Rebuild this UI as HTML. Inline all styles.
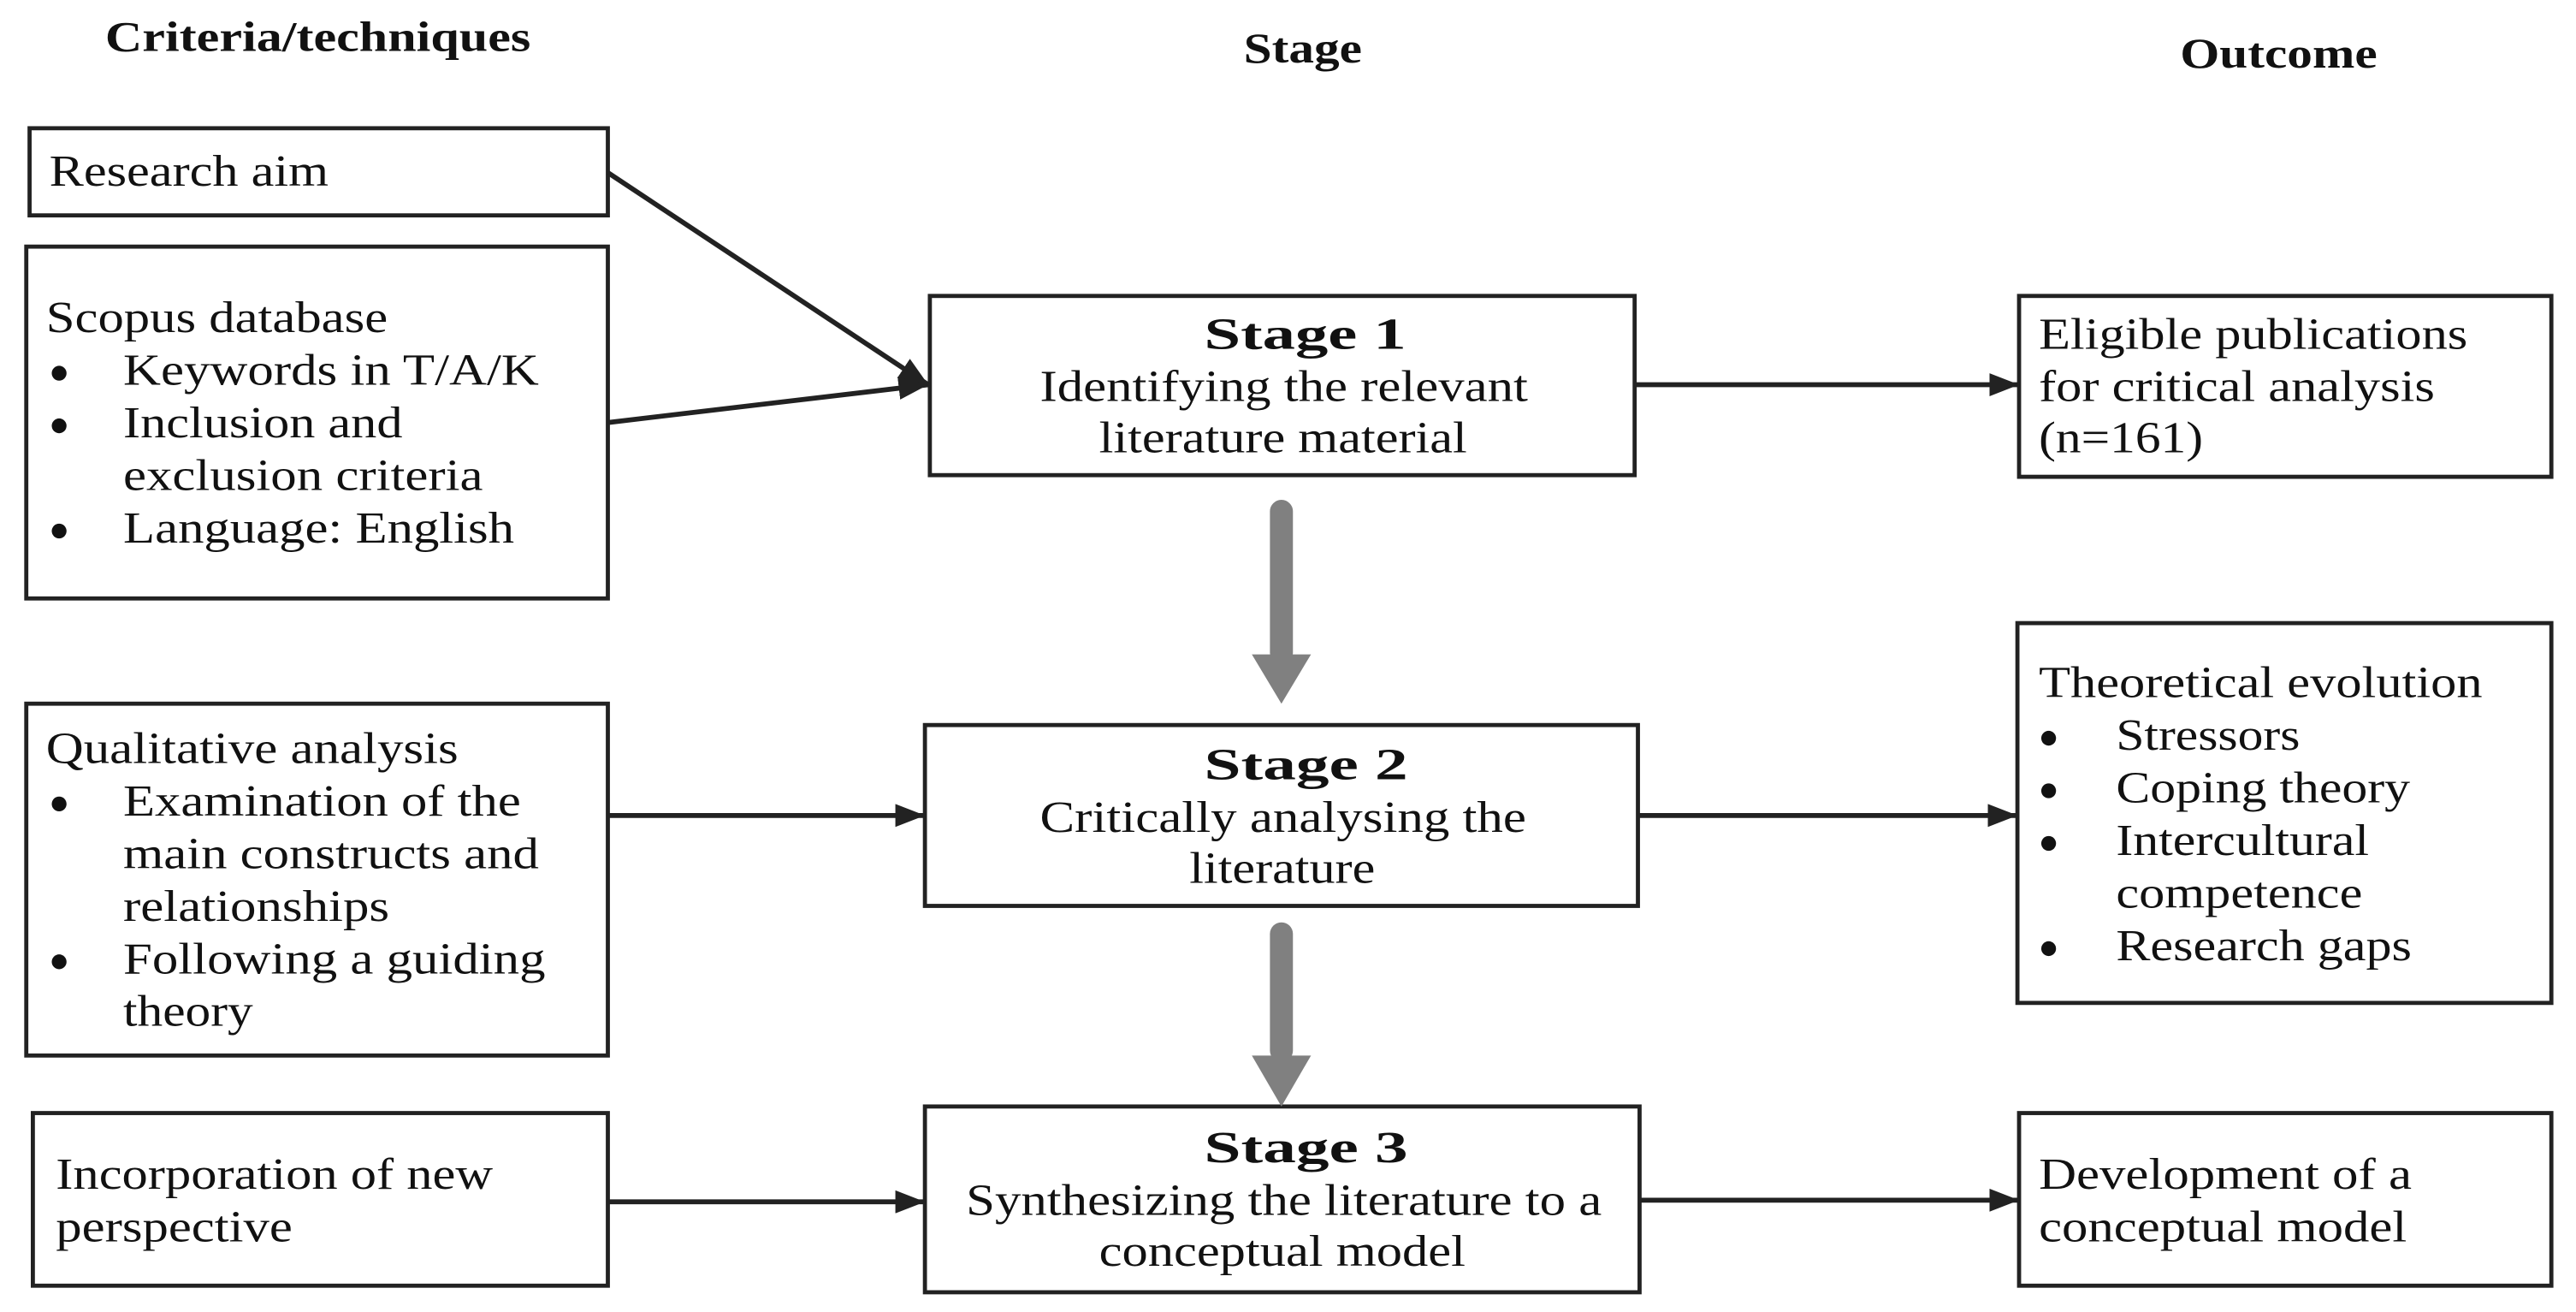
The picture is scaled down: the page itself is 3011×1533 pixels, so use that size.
<!DOCTYPE html>
<html><head><meta charset="utf-8"><style>html,body{margin:0;padding:0;background:#fff}svg{display:block}text{font-family:"Liberation Serif",serif}</style></head>
<body>
<svg width="3011" height="1533" viewBox="0 0 1568 798" preserveAspectRatio="none" xmlns="http://www.w3.org/2000/svg" font-size="27" fill="#111">
<defs>
<marker id="a" markerWidth="18" markerHeight="14" refX="18" refY="7" orient="auto" markerUnits="userSpaceOnUse" viewBox="0 0 18 14"><path d="M0,0 L18,7 L0,14 z" fill="#222"/></marker>
</defs>
<g font-weight="bold" font-size="26" lengthAdjust="spacingAndGlyphs">
<text x="64" y="31" textLength="259" lengthAdjust="spacingAndGlyphs">Criteria/techniques</text>
<text x="757" y="38" textLength="72" lengthAdjust="spacingAndGlyphs">Stage</text>
<text x="1327" y="41" textLength="120" lengthAdjust="spacingAndGlyphs">Outcome</text>
</g>
<g fill="none" stroke="#222" stroke-width="2.5">
<rect x="18" y="78" width="352" height="53"/>
<rect x="16" y="150" width="354" height="214"/>
<rect x="16" y="428" width="354" height="214"/>
<rect x="20" y="677" width="350" height="105"/>
<rect x="566" y="180" width="429" height="109"/>
<rect x="563" y="441" width="434" height="110"/>
<rect x="563" y="673" width="435" height="113"/>
<rect x="1229" y="180" width="324" height="110"/>
<rect x="1228" y="379" width="325" height="231"/>
<rect x="1229" y="677" width="324" height="105"/>
</g>
<g stroke="#222" stroke-width="3" fill="none">
<line x1="370" y1="105" x2="565" y2="234" marker-end="url(#a)"/>
<line x1="370" y1="257" x2="565" y2="234" marker-end="url(#a)"/>
<line x1="370" y1="496" x2="563" y2="496" marker-end="url(#a)"/>
<line x1="370" y1="731" x2="563" y2="731" marker-end="url(#a)"/>
<line x1="995" y1="234" x2="1229" y2="234" marker-end="url(#a)"/>
<line x1="997" y1="496" x2="1228" y2="496" marker-end="url(#a)"/>
<line x1="998" y1="730" x2="1229" y2="730" marker-end="url(#a)"/>
</g>
<g fill="#808080">
<rect x="773" y="304" width="14" height="100" rx="7"/>
<path d="M762,398 L798,398 L780,428 z"/>
<rect x="773" y="561" width="14" height="85" rx="7"/>
<path d="M762,642 L798,642 L780,673 z"/>
</g>
<g fill="#111">
<circle cx="36" cy="227" r="4.5"/><circle cx="36" cy="259" r="4.5"/><circle cx="36" cy="323" r="4.5"/>
<circle cx="36" cy="489" r="4.5"/><circle cx="36" cy="585" r="4.5"/>
<circle cx="1247" cy="449" r="4.5"/><circle cx="1247" cy="481" r="4.5"/><circle cx="1247" cy="513" r="4.5"/><circle cx="1247" cy="577" r="4.5"/>
</g>
<text x="30" y="113" textLength="170" lengthAdjust="spacingAndGlyphs">Research aim</text>
<text x="28" y="202" textLength="208" lengthAdjust="spacingAndGlyphs">Scopus database</text>
<text x="75" y="234" textLength="253" lengthAdjust="spacingAndGlyphs">Keywords in T/A/K</text>
<text x="75" y="266" textLength="170" lengthAdjust="spacingAndGlyphs">Inclusion and</text>
<text x="75" y="298" textLength="219" lengthAdjust="spacingAndGlyphs">exclusion criteria</text>
<text x="75" y="330" textLength="238" lengthAdjust="spacingAndGlyphs">Language: English</text>
<text x="28" y="464" textLength="251" lengthAdjust="spacingAndGlyphs">Qualitative analysis</text>
<text x="75" y="496" textLength="242" lengthAdjust="spacingAndGlyphs">Examination of the</text>
<text x="75" y="528" textLength="253" lengthAdjust="spacingAndGlyphs">main constructs and</text>
<text x="75" y="560" textLength="162" lengthAdjust="spacingAndGlyphs">relationships</text>
<text x="75" y="592" textLength="257" lengthAdjust="spacingAndGlyphs">Following a guiding</text>
<text x="75" y="624" textLength="79" lengthAdjust="spacingAndGlyphs">theory</text>
<text x="34" y="723" textLength="266" lengthAdjust="spacingAndGlyphs">Incorporation of new</text>
<text x="34" y="755" textLength="144" lengthAdjust="spacingAndGlyphs">perspective</text>
<text x="733" y="212" font-weight="bold" textLength="123" lengthAdjust="spacingAndGlyphs">Stage 1</text>
<text x="633" y="244" textLength="297" lengthAdjust="spacingAndGlyphs">Identifying the relevant</text>
<text x="669" y="275" textLength="224" lengthAdjust="spacingAndGlyphs">literature material</text>
<text x="733" y="474" font-weight="bold" textLength="124" lengthAdjust="spacingAndGlyphs">Stage 2</text>
<text x="633" y="506" textLength="296" lengthAdjust="spacingAndGlyphs">Critically analysing the</text>
<text x="724" y="537" textLength="113" lengthAdjust="spacingAndGlyphs">literature</text>
<text x="733" y="707" font-weight="bold" textLength="124" lengthAdjust="spacingAndGlyphs">Stage 3</text>
<text x="588" y="739" textLength="387" lengthAdjust="spacingAndGlyphs">Synthesizing the literature to a</text>
<text x="669" y="770" textLength="223" lengthAdjust="spacingAndGlyphs">conceptual model</text>
<text x="1241" y="212" textLength="261" lengthAdjust="spacingAndGlyphs">Eligible publications</text>
<text x="1241" y="244" textLength="241" lengthAdjust="spacingAndGlyphs">for critical analysis</text>
<text x="1241" y="275" textLength="100" lengthAdjust="spacingAndGlyphs">(n=161)</text>
<text x="1241" y="424" textLength="270" lengthAdjust="spacingAndGlyphs">Theoretical evolution</text>
<text x="1288" y="456" textLength="112" lengthAdjust="spacingAndGlyphs">Stressors</text>
<text x="1288" y="488" textLength="179" lengthAdjust="spacingAndGlyphs">Coping theory</text>
<text x="1288" y="520" textLength="154" lengthAdjust="spacingAndGlyphs">Intercultural</text>
<text x="1288" y="552" textLength="150" lengthAdjust="spacingAndGlyphs">competence</text>
<text x="1288" y="584" textLength="180" lengthAdjust="spacingAndGlyphs">Research gaps</text>
<text x="1241" y="723" textLength="227" lengthAdjust="spacingAndGlyphs">Development of a</text>
<text x="1241" y="755" textLength="224" lengthAdjust="spacingAndGlyphs">conceptual model</text>
</svg>
</body></html>
